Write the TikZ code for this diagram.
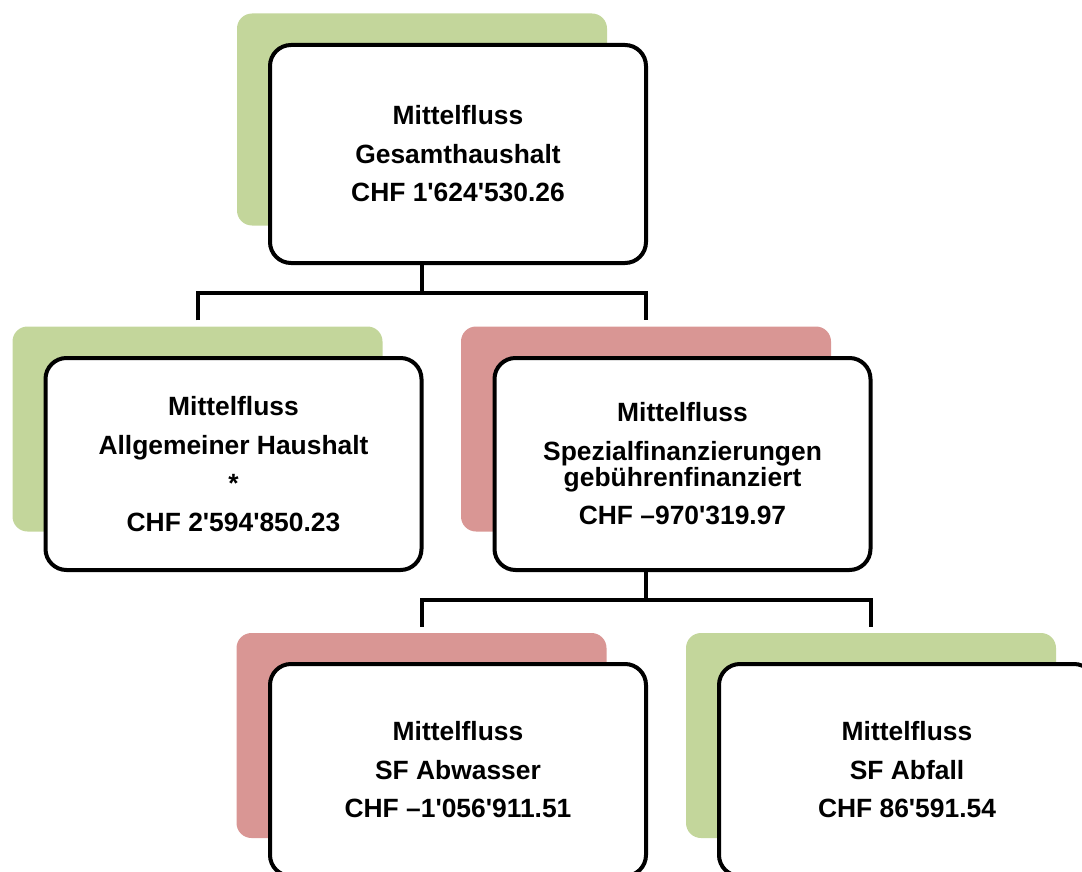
\documentclass[tikz,border=0pt]{standalone}
\usepackage{fontspec}
\setmainfont{Liberation Sans}
\usetikzlibrary{calc}
\definecolor{gruen}{HTML}{C3D69B}
\definecolor{rot}{HTML}{D99694}
\newcommand{\hk}{\textquotesingle}
\tikzset{
	farbfeld/.style={rectangle, rounded corners=15pt, minimum width=370pt, minimum height=205pt, inner sep=0pt},
	kasten/.style={rectangle, draw, line width=4pt, fill=white, rounded corners=21pt, minimum width=376pt, minimum height=212pt, inner sep=0pt, align=center, font=\fontsize{26.4}{38.5}\selectfont\bfseries},
	verbinder/.style={line width=4pt}
}
\begin{document}
\begin{tikzpicture}[x=1pt,y=-1pt]
		\useasboundingbox (0,0) rectangle (1082,872);
		\clip (0,0) rectangle (1082,872);
		\node[farbfeld, fill=gruen, minimum height=212pt] (gesamtFarbe) at (422,119.5) {};
		\node[kasten, minimum height=218pt] (gesamt) at (458,154) {Mittelfluss\\Gesamthaushalt\\CHF 1\hk624\hk530.26};
		\node[farbfeld, fill=gruen] (allgFarbe) at (197.5,429) {};
		\node[kasten] (allg) at (233.5,464) {Mittelfluss\\Allgemeiner Haushalt\\*\\CHF 2\hk594\hk850.23};
		\node[farbfeld, fill=rot] (spezFarbe) at (646,429) {};
		\node[kasten] (spez) at (682.5,464) {Mittelfluss\\Spezialfinanzierungen\\[-12.5pt]gebührenfinanziert\\CHF –970\hk319.97};
		\node[farbfeld, fill=rot] (abwFarbe) at (421.5,735.5) {};
		\node[kasten] (abw) at (458,770) {Mittelfluss\\SF Abwasser\\CHF –1\hk056\hk911.51};
		\node[farbfeld, fill=gruen] (abfFarbe) at (871,735.5) {};
		\node[kasten] (abf) at (907,770) {Mittelfluss\\SF Abfall\\CHF 86\hk591.54};
		
		\coordinate (gabelOben) at ($(gesamtFarbe.center |- gesamt.south)+(0,28)$);
		\draw[verbinder] (gesamtFarbe.center |- gesamt.south) -- (gabelOben);
		\draw[verbinder] ($(allgFarbe.north)+(0,-6)$) |- (gabelOben) -| ($(spezFarbe.north)+(0,-6)$);
		\coordinate (gabelUnten) at ($(spezFarbe.center |- spez.south)+(0,28)$);
		\draw[verbinder] (spezFarbe.center |- spez.south) -- (gabelUnten);
		\draw[verbinder] ($(abwFarbe.north)+(0,-6)$) |- (gabelUnten) -| ($(abfFarbe.north)+(0,-6)$);
		
	\end{tikzpicture}
\end{document}
